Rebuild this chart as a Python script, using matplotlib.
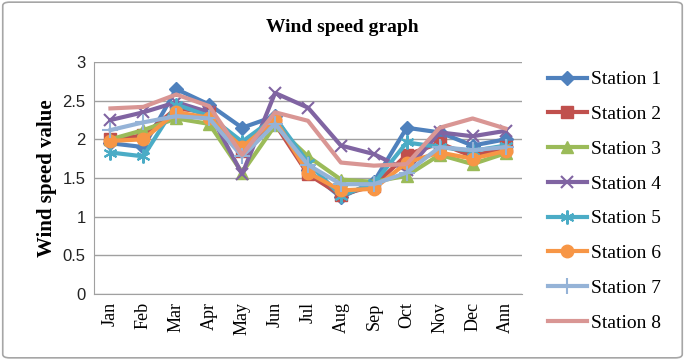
import matplotlib
matplotlib.use("Agg")
import matplotlib.pyplot as plt
from matplotlib.patches import FancyBboxPatch

months = ["Jan", "Feb", "Mar", "Apr", "May", "Jun", "Jul", "Aug", "Sep",
          "Oct", "Nov", "Dec", "Ann"]

station1 = [1.95, 1.90, 2.65, 2.45, 2.15, 2.30, 1.60, 1.25, 1.45, 2.15, 2.09, 1.92, 2.00]
station2 = [2.00, 2.05, 2.40, 2.35, 1.85, 2.20, 1.55, 1.28, 1.40, 1.80, 1.95, 1.78, 1.90]
station3 = [2.00, 2.12, 2.27, 2.20, 1.57, 2.18, 1.78, 1.48, 1.45, 1.53, 1.80, 1.68, 1.82]
station4 = [2.25, 2.35, 2.48, 2.35, 1.55, 2.60, 2.41, 1.92, 1.81, 1.60, 2.09, 2.04, 2.11]
station5 = [1.83, 1.78, 2.45, 2.30, 1.97, 2.28, 1.70, 1.27, 1.43, 1.96, 1.90, 1.85, 1.92]
station6 = [1.98, 2.00, 2.35, 2.28, 1.90, 2.25, 1.57, 1.34, 1.36, 1.70, 1.83, 1.75, 1.85]
station7 = [2.12, 2.22, 2.30, 2.27, 1.78, 2.20, 1.67, 1.42, 1.42, 1.57, 1.90, 1.86, 1.90]
station8 = [2.40, 2.42, 2.58, 2.43, 1.80, 2.35, 2.24, 1.70, 1.66, 1.68, 2.15, 2.27, 2.14]

series = [station1, station2, station3, station4, station5, station6, station7, station8]
labels = ["Station 1", "Station 2", "Station 3", "Station 4",
          "Station 5", "Station 6", "Station 7", "Station 8"]
colors = ["#4F81BD", "#C0504D", "#9BBB59", "#8064A2",
          "#4BACC6", "#F79646", "#95B3D7", "#D99694"]
markers = ["D", "s", "^", "x", (6, 2, 0), "o", "+", None]
msizes = [7, 8, 8, 9, 10, 9, 11, 0]

serif = ["Liberation Serif", "DejaVu Serif"]

fig = plt.figure(figsize=(6.85, 3.6), dpi=100)

# outer frame
frame = FancyBboxPatch((0.004, 0.006), 0.992, 0.988,
                       boxstyle="round,pad=0,rounding_size=0.01",
                       transform=fig.transFigure, fill=False,
                       edgecolor="#A6A6A6", lw=1.2)
fig.patches.append(frame)

ax = fig.add_axes([0.1372, 0.1833, 0.6248, 0.6444])

x = range(len(months))
for vals, lab, c, m, ms in zip(series, labels, colors, markers, msizes):
    thin = m in ("x", "+") or isinstance(m, tuple)
    ax.plot(x, vals, color=c, lw=3, marker=m, ms=ms, mew=1.5 if thin else 1,
            mec=c, mfc=c, label=lab)

ax.set_xlim(-0.5, len(months) - 0.5)
ax.set_ylim(0, 3)
ax.set_yticks([0, 0.5, 1, 1.5, 2, 2.5, 3])
ax.set_yticklabels(["0", "0.5", "1", "1.5", "2", "2.5", "3"],
                   fontsize=12, family="Liberation Sans", color="#222222")
ax.set_xticks(list(x))
ax.set_xticklabels(months, rotation=90, fontsize=13, family=serif)
ax.tick_params(axis="both", length=0, pad=6)
ax.yaxis.grid(True, color="#A0A0A0", lw=1)
ax.set_axisbelow(True)
for side in ["top", "right"]:
    ax.spines[side].set_visible(False)
for side in ["left", "bottom"]:
    ax.spines[side].set_color("#A0A0A0")

ax.set_ylabel("Wind speed value", fontsize=15, fontweight="bold", family=serif, labelpad=4)
fig.text(0.5, 0.925, "Wind speed graph", ha="center", va="center",
         fontsize=14, fontweight="bold", family=serif)

leg = ax.legend(loc="center left", bbox_to_anchor=(1.02, 0.40), frameon=False,
                prop={"family": serif, "size": 14}, handlelength=2.0,
                handletextpad=0.2, labelspacing=0.88)

fig.savefig("out.png", dpi=100)
